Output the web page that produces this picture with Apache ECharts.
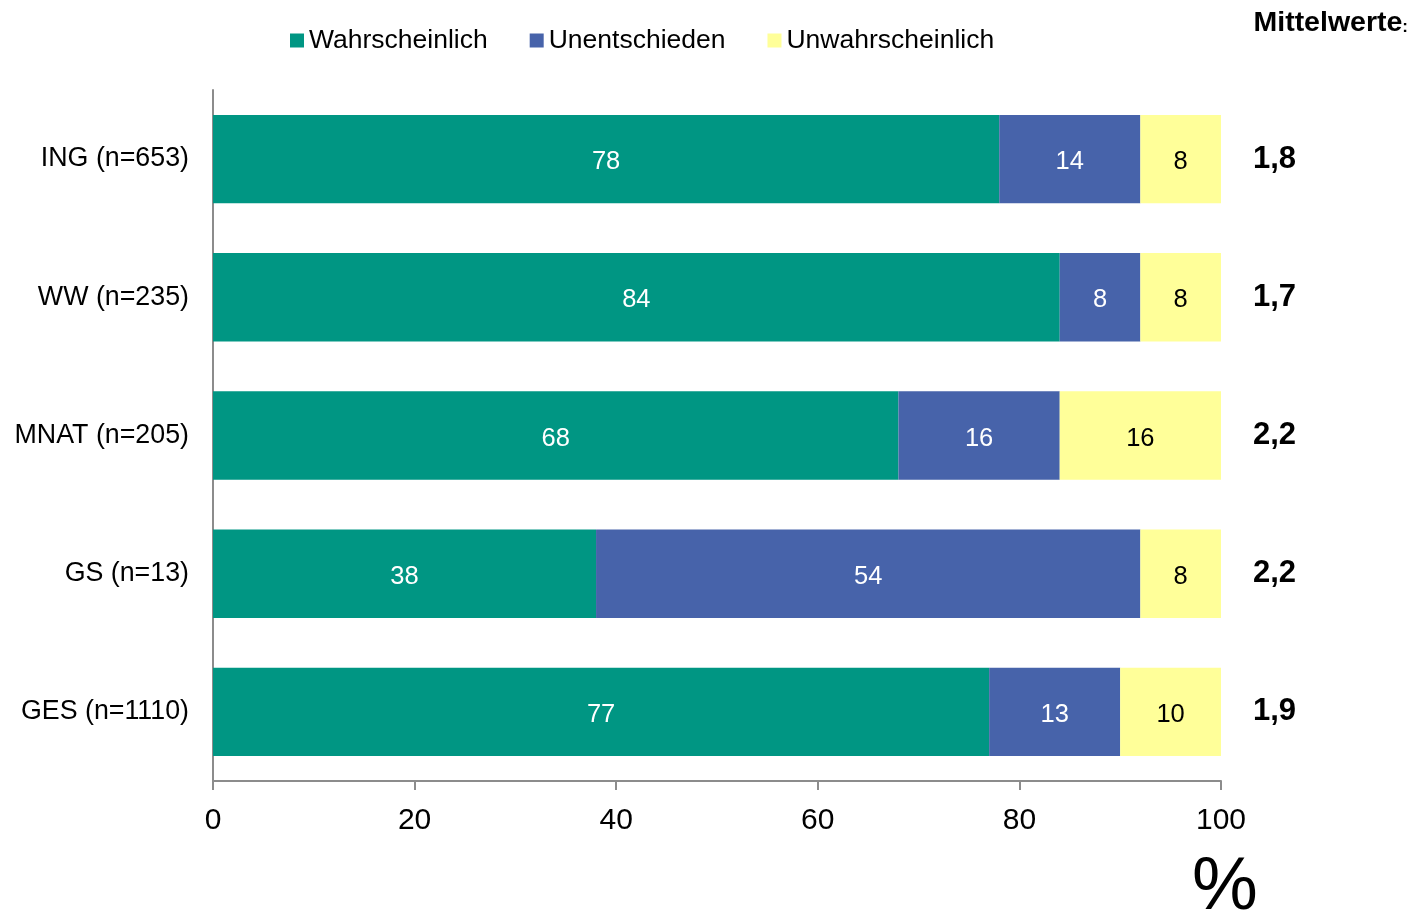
<!DOCTYPE html>
<html>
<head>
<meta charset="utf-8">
<script src="https://cdn.jsdelivr.net/npm/echarts@6/dist/echarts.min.js"></script>
<style>
  html, body { margin: 0; padding: 0; background: #fff; }
  #chart { width: 1421px; height: 918px; }
</style>
</head>
<body>
<div id="chart"></div>
<script>
var categories = ['ING (n=653)', 'WW (n=235)', 'MNAT (n=205)', 'GS (n=13)', 'GES (n=1110)'];
var means = ['1,8', '1,7', '2,2', '2,2', '1,9'];
var wahrscheinlich = [78, 84, 68, 38, 77];
var unentschieden = [14, 8, 16, 54, 13];
var unwahrscheinlich = [8, 8, 16, 8, 10];
var xTicks = [0, 20, 40, 60, 80, 100];

var font = 'Arial, "Liberation Sans", sans-serif';

function barSeries(name, data, color, labelColor) {
  return {
    name: name,
    type: 'bar',
    stack: 'total',
    barWidth: '64%',
    data: data,
    itemStyle: { color: color },
    label: {
      show: true,
      position: 'inside',
      offset: [0, 3],
      color: labelColor,
      fontSize: 25.5,
      fontFamily: font
    }
  };
}

var chart = echarts.init(document.getElementById('chart'));
var option = {
  animation: false,
  textStyle: { fontFamily: font },
  title: {
    text: '{a|Mittelwerte}{b|:}',
    right: 8,
    top: 4,
    textStyle: {
      rich: {
        a: { fontSize: 28.5, fontWeight: 'bold', color: '#000', fontFamily: font },
        b: { fontSize: 17, fontWeight: 'bold', color: '#000', fontFamily: font, padding: [7, 0, 0, 0] }
      }
    }
  },
  legend: {
    left: 285,
    top: 22,
    itemWidth: 14,
    itemHeight: 14,
    itemGap: 42,
    icon: 'rect',
    textStyle: { fontSize: 26.5, color: '#000', fontFamily: font },
    data: ['Wahrscheinlich', 'Unentschieden', 'Unwahrscheinlich']
  },
  grid: { left: 213, right: 200, top: 90, bottom: 137 },
  xAxis: {
    type: 'value',
    min: 0,
    max: 100,
    interval: 20,
    axisLine: { show: true, lineStyle: { color: '#8c8c8c', width: 2 } },
    axisTick: { show: true, length: 9, lineStyle: { color: '#8c8c8c', width: 2 } },
    splitLine: { show: false },
    axisLabel: {
      color: '#000',
      fontSize: 30,
      margin: 25,
      fontFamily: font,
      formatter: function (v) { return xTicks.indexOf(v) >= 0 ? String(v) : ''; }
    }
  },
  yAxis: [
    {
      type: 'category',
      inverse: true,
      data: categories,
      axisLine: { show: true, lineStyle: { color: '#8c8c8c', width: 2 } },
      axisTick: { show: false },
      axisLabel: { color: '#000', fontSize: 26.8, margin: 24, fontFamily: font }
    },
    {
      type: 'category',
      inverse: true,
      position: 'right',
      data: means,
      axisLine: { show: false },
      axisTick: { show: false },
      axisLabel: { color: '#000', fontSize: 31, fontWeight: 'bold', margin: 32, align: 'left', fontFamily: font }
    }
  ],
  graphic: [
    {
      type: 'text',
      left: 1192,
      top: 852,
      style: { text: '%', fontSize: 74, fill: '#000', fontFamily: font }
    }
  ],
  series: [
    barSeries('Wahrscheinlich', wahrscheinlich, '#009683', '#fff'),
    barSeries('Unentschieden', unentschieden, '#4763AA', '#fff'),
    barSeries('Unwahrscheinlich', unwahrscheinlich, '#FFFF99', '#000')
  ]
};
chart.setOption(option);
</script>
</body>
</html>
